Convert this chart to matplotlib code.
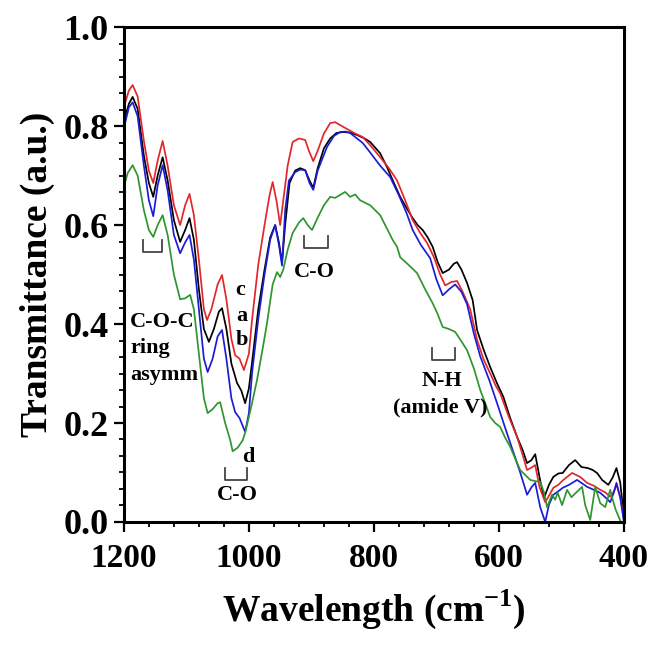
import matplotlib
matplotlib.use('Agg')
import matplotlib.pyplot as plt
from matplotlib.ticker import MultipleLocator, AutoMinorLocator

# wavenumber (cm-1) / transmittance
wn_a = [1200, 1192, 1186, 1178, 1168, 1160, 1153, 1146, 1138, 1130, 1120, 1110, 1102, 1095,
        1088, 1080, 1072, 1064, 1056, 1048, 1043, 1036, 1028, 1019, 1012, 1006, 1000, 994,
        985, 975, 966, 958, 952, 947, 942, 935, 926, 918, 910, 903, 897, 890, 880, 870, 860,
        850, 838, 827, 815, 806, 790, 779, 768, 758, 748, 738, 730, 722, 714, 706, 698, 690,
        680, 672, 667, 660, 651, 642, 635, 625, 614, 603, 593, 582, 571, 562, 555, 548, 542,
        535, 528, 520, 513, 505, 498, 488, 478, 468, 458, 450, 443, 435, 425, 418, 412, 406, 400]
t_a = [0.81, 0.845, 0.859, 0.835, 0.74, 0.685, 0.657, 0.70, 0.737, 0.69, 0.61, 0.566, 0.59, 0.614,
       0.57, 0.47, 0.39, 0.364, 0.39, 0.425, 0.432, 0.39, 0.32, 0.281, 0.265, 0.24, 0.27, 0.333,
       0.43, 0.51, 0.575, 0.60, 0.565, 0.525, 0.60, 0.685, 0.71, 0.715, 0.711, 0.69, 0.675, 0.715,
       0.755, 0.775, 0.786, 0.788, 0.787, 0.782, 0.775, 0.768, 0.745, 0.717, 0.685, 0.657, 0.635,
       0.614, 0.60, 0.59, 0.575, 0.556, 0.525, 0.503, 0.51, 0.522, 0.525, 0.51, 0.483, 0.448,
       0.388, 0.35, 0.313, 0.28, 0.253, 0.21, 0.172, 0.145, 0.119, 0.125, 0.137, 0.09, 0.048,
       0.075, 0.091, 0.098, 0.099, 0.115, 0.125, 0.111, 0.109, 0.105, 0.099, 0.085, 0.075, 0.09,
       0.109, 0.08, 0.01]

wn_b = [1200, 1192, 1186, 1178, 1168, 1160, 1153, 1146, 1138, 1130, 1120, 1110, 1102, 1095,
        1088, 1080, 1072, 1066, 1058, 1050, 1043, 1036, 1028, 1022, 1015, 1006, 1000, 995,
        985, 975, 966, 958, 952, 947, 942, 936, 926, 918, 910, 903, 897, 890, 875, 864, 854,
        846, 838, 828, 818, 805, 790, 774, 760, 748, 738, 725, 710, 700, 690, 680, 670, 660,
        651, 640, 630, 615, 603, 590, 578, 566, 555, 548, 542, 534, 526, 520, 513, 505, 498,
        488, 475, 467, 459, 450, 438, 430, 422, 416, 412, 406, 400]
t_b = [0.796, 0.838, 0.848, 0.82, 0.72, 0.65, 0.618, 0.68, 0.721, 0.67, 0.58, 0.543, 0.565, 0.58,
       0.53, 0.43, 0.33, 0.303, 0.33, 0.375, 0.388, 0.33, 0.25, 0.222, 0.21, 0.182, 0.22, 0.30,
       0.41, 0.50, 0.57, 0.60, 0.56, 0.518, 0.63, 0.69, 0.707, 0.712, 0.711, 0.685, 0.671, 0.71,
       0.758, 0.78, 0.788, 0.789, 0.786, 0.776, 0.766, 0.745, 0.72, 0.697, 0.66, 0.625, 0.59,
       0.56, 0.533, 0.49, 0.458, 0.47, 0.48, 0.465, 0.44, 0.38, 0.335, 0.285, 0.24, 0.19, 0.145,
       0.10, 0.055, 0.07, 0.079, 0.03, 0.0, 0.035, 0.055, 0.062, 0.069, 0.075, 0.085, 0.078,
       0.071, 0.066, 0.059, 0.05, 0.04, 0.06, 0.079, 0.05, 0.0]

wn_c = [1200, 1192, 1186, 1178, 1168, 1160, 1153, 1146, 1138, 1130, 1120, 1110, 1102, 1095,
        1088, 1080, 1072, 1067, 1060, 1050, 1043, 1036, 1028, 1022, 1015, 1008, 1000, 995,
        985, 975, 967, 962, 956, 950, 944, 938, 930, 920, 910, 904, 897, 890, 880, 870, 862,
        854, 840, 830, 818, 805, 790, 776, 763, 750, 738, 726, 715, 704, 694, 686, 676, 667,
        658, 646, 635, 625, 614, 605, 598, 585, 571, 562, 555, 548, 542, 535, 526, 519, 513,
        505, 497, 483, 470, 459, 448, 438, 430, 422, 417, 412, 406, 400]
t_c = [0.838, 0.872, 0.883, 0.86, 0.77, 0.71, 0.685, 0.73, 0.77, 0.72, 0.64, 0.60, 0.64, 0.663,
       0.62, 0.53, 0.43, 0.408, 0.43, 0.48, 0.499, 0.45, 0.37, 0.337, 0.33, 0.307, 0.34, 0.408,
       0.52, 0.60, 0.66, 0.687, 0.65, 0.60, 0.66, 0.72, 0.768, 0.775, 0.772, 0.75, 0.729, 0.75,
       0.785, 0.806, 0.808, 0.802, 0.792, 0.785, 0.778, 0.76, 0.737, 0.715, 0.69, 0.65, 0.61,
       0.584, 0.564, 0.535, 0.50, 0.478, 0.485, 0.487, 0.465, 0.43, 0.368, 0.33, 0.30, 0.275,
       0.26, 0.215, 0.172, 0.135, 0.105, 0.11, 0.115, 0.07, 0.04, 0.055, 0.069, 0.075, 0.085,
       0.099, 0.091, 0.079, 0.073, 0.065, 0.06, 0.051, 0.06, 0.075, 0.05, 0.005]

wn_d = [1200, 1194, 1186, 1178, 1168, 1160, 1153, 1146, 1138, 1130, 1120, 1110, 1102, 1094,
        1088, 1080, 1072, 1066, 1058, 1050, 1046, 1038, 1030, 1026, 1018, 1010, 1006, 995,
        987, 978, 971, 962, 955, 950, 945, 938, 930, 920, 913, 906, 899, 890, 880, 870, 862,
        854, 846, 838, 830, 822, 814, 806, 798, 790, 780, 770, 763, 758, 745, 731, 718, 706,
        698, 690, 680, 670, 660, 651, 640, 630, 622, 614, 606, 598, 590, 582, 574, 566, 558,
        550, 540, 534, 528, 523, 515, 510, 506, 499, 491, 484, 476, 467, 462, 454, 446, 438,
        430, 422, 418, 413, 405, 400]
t_d = [0.677, 0.705, 0.721, 0.70, 0.63, 0.59, 0.576, 0.60, 0.62, 0.58, 0.50, 0.45, 0.452, 0.459,
       0.43, 0.34, 0.25, 0.22, 0.228, 0.24, 0.242, 0.20, 0.166, 0.143, 0.15, 0.165, 0.18, 0.24,
       0.287, 0.35, 0.402, 0.48, 0.505, 0.495, 0.51, 0.55, 0.584, 0.605, 0.614, 0.60, 0.59, 0.615,
       0.64, 0.657, 0.655, 0.661, 0.667, 0.657, 0.662, 0.65, 0.645, 0.64, 0.63, 0.62, 0.595, 0.57,
       0.556, 0.535, 0.52, 0.503, 0.47, 0.442, 0.42, 0.394, 0.39, 0.384, 0.365, 0.347, 0.31,
       0.267, 0.24, 0.212, 0.20, 0.192, 0.17, 0.152, 0.128, 0.105, 0.095, 0.085, 0.082, 0.081,
       0.06, 0.03, 0.055, 0.045, 0.059, 0.034, 0.065, 0.05, 0.06, 0.071, 0.034, 0.004, 0.071,
       0.038, 0.03, 0.065, 0.045, 0.024, 0.0, 0.0]

series = [(wn_a, t_a, 'black'), (wn_c, t_c, '#e3262b'), (wn_b, t_b, '#1c1cd6'), (wn_d, t_d, '#2f962f')]

# band brackets: (x_left, x_right, y_bottom)
brackets = [(1169, 1139, 0.545), (1038, 1003, 0.085), (912, 874, 0.553), (707, 670, 0.327)]
bracket_h = 0.025

# labels: (x, y, text, ha)
labels = [(1190, 0.404, 'C-O-C', 'left'), (1190, 0.352, 'ring', 'left'), (1190, 0.297, 'asymm', 'left'),
          (1014, 0.469, 'c', 'center'), (1012, 0.416, 'a', 'center'), (1012, 0.368, 'b', 'center'),
          (1001, 0.131, 'd', 'center'), (1019, 0.055, 'C-O', 'center'), (896, 0.505, 'C-O', 'center'),
          (691, 0.285, 'N-H', 'center'), (694, 0.232, '(amide V)', 'center')]

plt.rcParams['font.family'] = ['Liberation Serif', 'DejaVu Serif']
plt.rcParams['font.weight'] = 'bold'
plt.rcParams['mathtext.fontset'] = 'custom'
plt.rcParams['mathtext.bf'] = 'Liberation Serif:bold'

fig = plt.figure(figsize=(6.52, 6.46), dpi=100)
ax = fig.add_axes([0.190, 0.192, 0.767, 0.766])

for wn, t, c in series:
    ax.plot(wn, t, color=c, lw=1.25)

for x1, x2, yb in brackets:
    ax.plot([x1, x1, x2, x2], [yb + bracket_h, yb, yb, yb + bracket_h], color='#444444', lw=1.3)

for x, y, s, ha in labels:
    ax.text(x, y, s, ha=ha, va='center', fontsize=16, fontweight='bold')

ax.set_xlim(1200, 400)
ax.set_ylim(0, 1.0)
ax.set_xticks([1200, 1000, 800, 600, 400])
ax.set_xticklabels(['1200', '1000', '800', '600', '400'])
ax.set_yticks([0.0, 0.2, 0.4, 0.6, 0.8, 1.0])
ax.set_yticklabels(['0.0', '0.2', '0.4', '0.6', '0.8', '1.0'])
ax.xaxis.set_minor_locator(AutoMinorLocator(5))
ax.yaxis.set_minor_locator(AutoMinorLocator(6))

for sp in ax.spines.values():
    sp.set_linewidth(2.2)
ax.tick_params(which='major', direction='out', length=7, width=1.6)
ax.tick_params(which='minor', direction='out', length=3.5, width=1.3)
ax.tick_params(axis='x', which='major', labelsize=24, pad=8)
ax.tick_params(axis='y', which='major', labelsize=26, pad=4)
ax.tick_params(top=False, right=False, which='both')
for lab in ax.get_xticklabels() + ax.get_yticklabels():
    lab.set_fontweight('bold')

ax.set_xlabel('Wavelength (cm$^{\\mathbf{-1}}$)', fontsize=27, fontweight='bold', labelpad=10)
ax.set_ylabel('Transmittance (a.u.)', fontsize=27, fontweight='bold', labelpad=6)

fig.savefig('out.png', dpi=100)
